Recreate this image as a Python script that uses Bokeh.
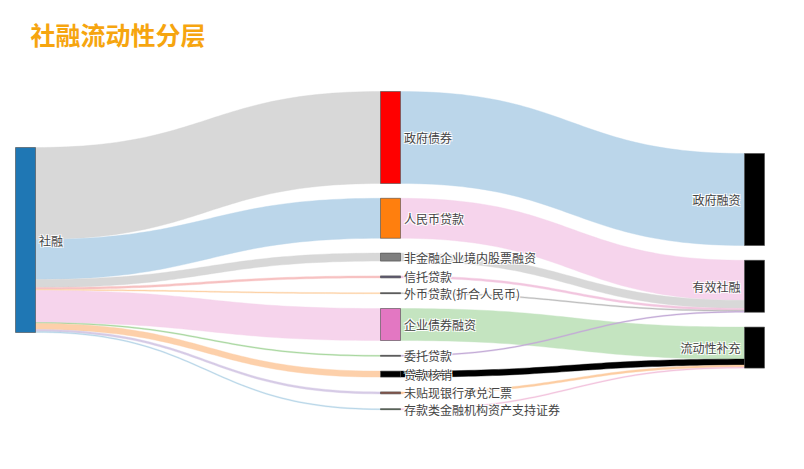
import numpy as np
from bokeh.plotting import figure
from bokeh.models import Range1d, ColumnDataSource
from bokeh.core.properties import value
from bokeh.embed import file_html
from bokeh.resources import INLINE

# ---------------- data ----------------
title_text = "社融流动性分层"

node_names = ["社融",
              "政府债券", "人民币贷款", "非金融企业境内股票融资", "信托贷款",
              "外币贷款(折合人民币)", "企业债券融资", "委托贷款", "贷款核销",
              "未贴现银行承兑汇票", "存款类金融机构资产支持证券",
              "政府融资", "有效社融", "流动性补充"]
node_column = [0, 1, 1, 1, 1, 1, 1, 1, 1, 1, 1, 2, 2, 2]
node_colors = ["#1f77b4",
               "#ff0000", "#ff7f0e", "#7f7f7f", "#5f5a73",
               "#3a3a3a", "#e377c2", "#3a3a3a", "#000000",
               "#8c564b", "#2d4f2d",
               "#000000", "#000000", "#000000"]

link_source = ["社融"] * 10 + [
    "政府债券", "人民币贷款", "非金融企业境内股票融资", "信托贷款",
    "外币贷款(折合人民币)", "企业债券融资", "委托贷款", "贷款核销",
    "未贴现银行承兑汇票", "存款类金融机构资产支持证券"]
link_target = [
    "政府债券", "人民币贷款", "非金融企业境内股票融资", "信托贷款",
    "外币贷款(折合人民币)", "企业债券融资", "委托贷款", "贷款核销",
    "未贴现银行承兑汇票", "存款类金融机构资产支持证券",
    "政府融资", "有效社融", "有效社融", "有效社融",
    "有效社融", "流动性补充", "有效社融", "流动性补充",
    "流动性补充", "流动性补充"]
link_values = [9.2, 4.0, 0.8, 0.2, 0.1, 3.2, 0.1, 0.6, 0.2, 0.1,
               9.2, 4.0, 0.8, 0.2, 0.1, 3.2, 0.1, 0.6, 0.2, 0.1]
link_colors = ["#d8d8d8", "#bbd6ea", "#d8d8d8", "#f7c2c2", "#fdd3a8",
               "#f6d4ec", "#a9d8a0", "#fdd0aa", "#d6cbe6", "#b8d6e8",
               "#bbd6ea", "#f6d4ec", "#d8d8d8", "#f2c6df", "#bdbdbd",
               "#c4e4c0", "#c3aad6", "#000000", "#fdcda2", "#f2c2dd"]

# ---------------- layout ----------------
W, H = 788, 453
col_x = [15, 380, 744]       # left edge of each column of nodes
col_top = [147, 91, 153]     # top of the first node in each column
node_w = 20
scale = 10.0                 # px per unit
pad = 14.8

n = len(node_names)
idx = {name: i for i, name in enumerate(node_names)}
in_sum = np.zeros(n)
out_sum = np.zeros(n)
for s, t, v in zip(link_source, link_target, link_values):
    out_sum[idx[s]] += v
    in_sum[idx[t]] += v
node_val = np.maximum(in_sum, out_sum)

y0 = np.zeros(n)
y1 = np.zeros(n)
x0 = np.zeros(n)
cursor = list(col_top)
for i in range(n):
    c = node_column[i]
    y0[i] = cursor[c]
    y1[i] = y0[i] + node_val[i] * scale
    x0[i] = col_x[c]
    cursor[c] = y1[i] + pad
x1 = x0 + node_w

# link offsets
L = len(link_values)
src_off = np.zeros(L)
tgt_off = np.zeros(L)
for i in range(n):
    outs = [k for k in range(L) if idx[link_source[k]] == i]
    outs.sort(key=lambda k: y0[idx[link_target[k]]])
    off = y0[i]
    for k in outs:
        src_off[k] = off
        off += link_values[k] * scale
    ins = [k for k in range(L) if idx[link_target[k]] == i]
    ins.sort(key=lambda k: y0[idx[link_source[k]]])
    off = y0[i]
    for k in ins:
        tgt_off[k] = off
        off += link_values[k] * scale

t = np.linspace(0, 1, 60)
b0 = (1 - t) ** 3
b1 = 3 * (1 - t) ** 2 * t
b2 = 3 * (1 - t) * t ** 2
b3 = t ** 3

xs_list, ys_list = [], []
for k in range(L):
    s = idx[link_source[k]]
    d = idx[link_target[k]]
    xa, xb = x1[s], x0[d]
    xm = (xa + xb) / 2
    w = link_values[k] * scale
    ya, yb = src_off[k], tgt_off[k]
    cx = b0 * xa + b1 * xm + b2 * xm + b3 * xb
    top = b0 * ya + b1 * ya + b2 * yb + b3 * yb
    bot = top + w
    xs_list.append(np.concatenate([cx, cx[::-1]]).tolist())
    ys_list.append(np.concatenate([top, bot[::-1]]).tolist())

p = figure(width=W, height=H, output_backend="svg", toolbar_location=None,
           x_range=Range1d(0, W), y_range=Range1d(H, 0),
           min_border=0, min_border_left=0, min_border_right=0,
           min_border_top=0, min_border_bottom=0)
p.axis.visible = False
p.grid.visible = False
p.outline_line_color = None
p.background_fill_color = "white"
p.border_fill_color = "white"

p.patches(xs=xs_list, ys=ys_list, fill_color=link_colors, line_color=link_colors,
          line_width=0.5, fill_alpha=1.0, line_alpha=0.8)

p.quad(left=x0, right=x1, top=y0, bottom=y1, fill_color=node_colors,
       line_color="#4a4a4a", line_width=0.6)

font = value("Noto Sans CJK SC")
lab_x, lab_y, lab_align = [], [], []
for i in range(n):
    c = node_column[i]
    cy = (y0[i] + y1[i]) / 2
    if c == 2:
        lab_x.append(x0[i] - 4)
        lab_align.append("right")
    else:
        lab_x.append(x1[i] + 3.5)
        lab_align.append("left")
    lab_y.append(cy)

src = ColumnDataSource(dict(x=lab_x, y=lab_y, text=node_names, align=lab_align))
# white halo like the reference labels
for dx, dy in [(1, 1), (-1, -1), (1, -1), (-1, 1)]:
    p.text(x="x", y="y", text="text", text_align="align", source=src,
           text_baseline="middle", text_font=font, text_font_size="12px",
           text_color="white", x_offset=dx, y_offset=dy)
p.text(x="x", y="y", text="text", text_align="align", source=src,
       text_baseline="middle", text_font=font, text_font_size="12px",
       text_color="#444444")

p.text(x=[30], y=[33], text=[title_text], text_align="left", text_baseline="middle",
       text_font=font, text_font_size="25px", text_font_style="bold",
       text_color="#f6a50f")

open("out.html", "w").write(file_html(p, INLINE))
